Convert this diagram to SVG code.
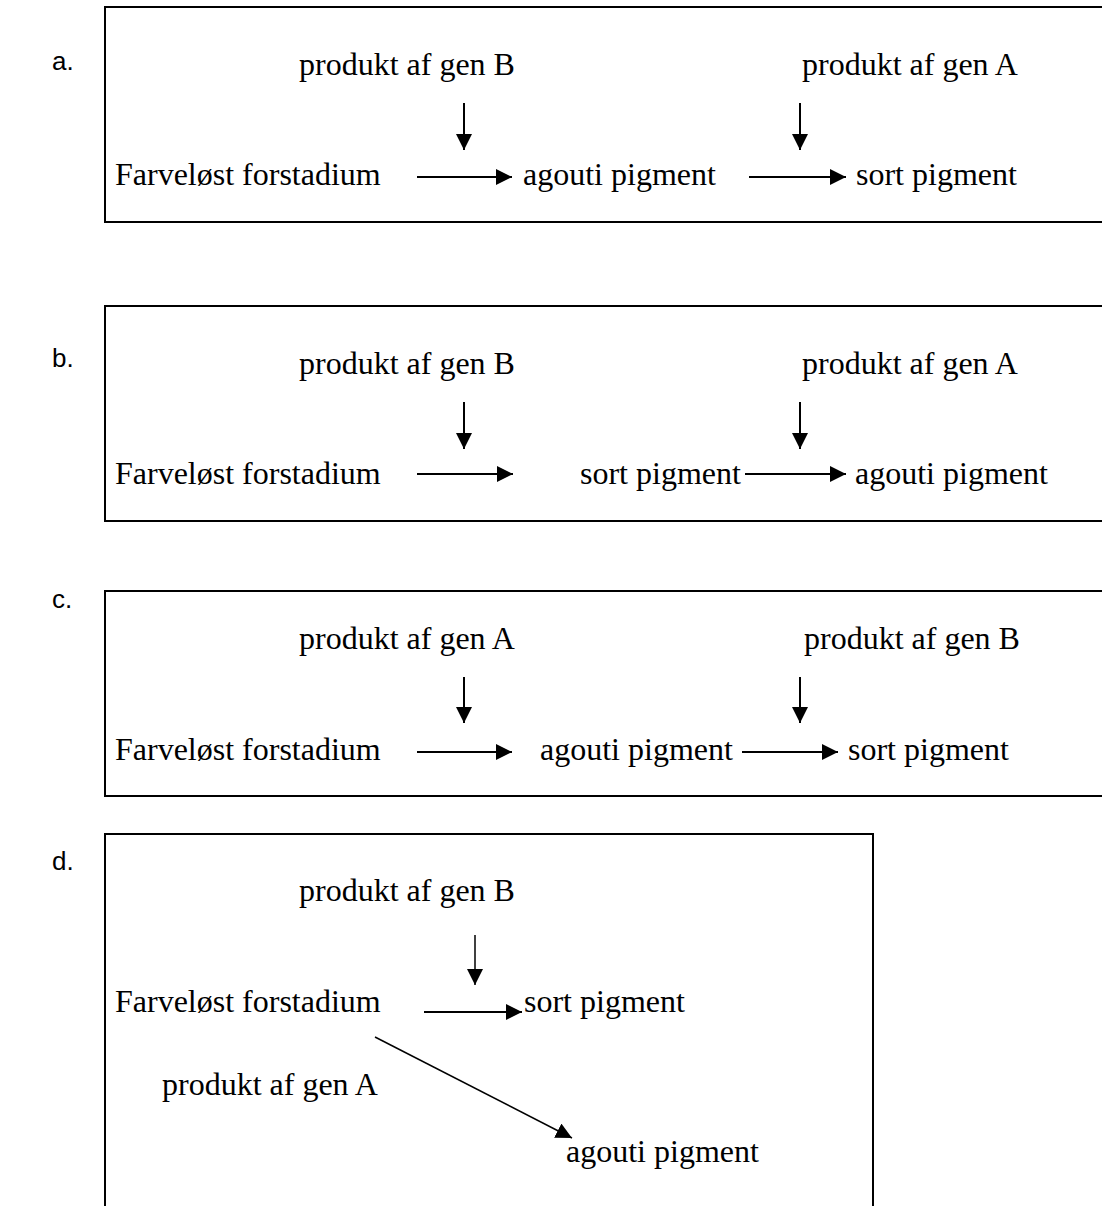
<svg xmlns="http://www.w3.org/2000/svg" width="1102" height="1206" viewBox="0 0 1102 1206">
<style>
.box{fill:none;stroke:#000;stroke-width:2}
.t{font-family:"Liberation Serif","Times New Roman",serif;font-size:32px;fill:#000}
.lbl{font-family:"Liberation Sans",Arial,sans-serif;font-size:26px;fill:#000}
.c{stroke:#000;stroke-width:2;fill:none}
.thin{stroke:#000;stroke-width:1.5;fill:none}
</style>
<defs>
<marker id="ah" viewBox="0 0 10 10" refX="10" refY="5" markerWidth="16" markerHeight="16" markerUnits="userSpaceOnUse" orient="auto">
<path d="M0,0 L10,5 L0,10 z" fill="#000"/>
</marker>
</defs>
<rect width="1102" height="1206" fill="#fff"/>
<g id="labels">
<text class="lbl" x="52" y="70">a.</text>
<text class="lbl" x="52" y="367">b.</text>
<text class="lbl" x="52" y="608">c.</text>
<text class="lbl" x="52" y="870">d.</text>
</g>
<g id="box-a">
<rect class="box" x="105" y="7" width="1010" height="215"/>
<text class="t" x="299" y="75">produkt af gen B</text>
<text class="t" x="802" y="75">produkt af gen A</text>
<text class="t" x="115" y="185">Farveløst forstadium</text>
<text class="t" x="523" y="185">agouti pigment</text>
<text class="t" x="856" y="185">sort pigment</text>
</g>
<g id="box-b">
<rect class="box" x="105" y="306" width="1010" height="215"/>
<text class="t" x="299" y="374">produkt af gen B</text>
<text class="t" x="802" y="374">produkt af gen A</text>
<text class="t" x="115" y="484">Farveløst forstadium</text>
<text class="t" x="580" y="484">sort pigment</text>
<text class="t" x="855" y="484">agouti pigment</text>
</g>
<g id="box-c">
<rect class="box" x="105" y="591" width="1010" height="205"/>
<text class="t" x="299" y="649">produkt af gen A</text>
<text class="t" x="804" y="649">produkt af gen B</text>
<text class="t" x="115" y="760">Farveløst forstadium</text>
<text class="t" x="540" y="760">agouti pigment</text>
<text class="t" x="848" y="760">sort pigment</text>
</g>
<g id="box-d">
<path class="box" d="M105,1210 V834 H873 V1210"/>
<text class="t" x="299" y="901">produkt af gen B</text>
<text class="t" x="115" y="1012">Farveløst forstadium</text>
<text class="t" x="524" y="1012">sort pigment</text>
<text class="t" x="162" y="1095">produkt af gen A</text>
<text class="t" x="566" y="1162">agouti pigment</text>
</g>
<g id="connectors">
<line class="c" x1="464" y1="103" x2="464" y2="150" marker-end="url(#ah)"/>
<line class="c" x1="800" y1="103" x2="800" y2="150" marker-end="url(#ah)"/>
<line class="c" x1="417" y1="177" x2="512" y2="177" marker-end="url(#ah)"/>
<line class="c" x1="749" y1="177" x2="846" y2="177" marker-end="url(#ah)"/>

<line class="c" x1="464" y1="402" x2="464" y2="449" marker-end="url(#ah)"/>
<line class="c" x1="800" y1="402" x2="800" y2="449" marker-end="url(#ah)"/>
<line class="c" x1="417" y1="474" x2="513" y2="474" marker-end="url(#ah)"/>
<line class="c" x1="745" y1="474" x2="846" y2="474" marker-end="url(#ah)"/>

<line class="c" x1="464" y1="677" x2="464" y2="723" marker-end="url(#ah)"/>
<line class="c" x1="800" y1="677" x2="800" y2="723" marker-end="url(#ah)"/>
<line class="c" x1="417" y1="752" x2="512" y2="752" marker-end="url(#ah)"/>
<line class="c" x1="742" y1="752" x2="838" y2="752" marker-end="url(#ah)"/>

<line class="thin" x1="475" y1="935" x2="475" y2="985" marker-end="url(#ah)"/>
<line class="c" x1="424" y1="1012" x2="522" y2="1012" marker-end="url(#ah)"/>
<line class="thin" x1="375" y1="1037" x2="572" y2="1138" marker-end="url(#ah)"/>
</g>
</svg>
